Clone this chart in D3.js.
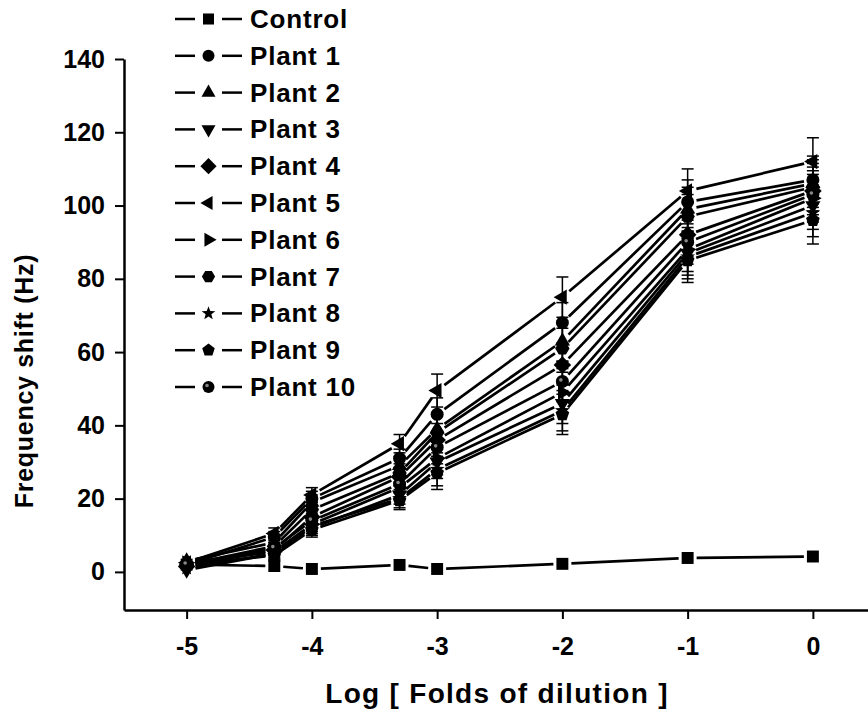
<!DOCTYPE html>
<html>
<head>
<meta charset="utf-8">
<script src="https://cdn.jsdelivr.net/npm/d3@7"></script>
<style>
  body { margin: 0; background: #fff; }
  text { font-family: Arial, "Liberation Sans", sans-serif; font-weight: bold; fill: #000; }
</style>
</head>
<body>
<script>
// dilution levels (log folds)
var dilution = [-5, -4.3, -4, -3.3, -3, -2, -1, 0];

var control = [2, 1.6, 0.8, 1.9, 0.8, 2.2, 3.8, 4.2];
var plant1  = [2, 9.5, 20, 31, 43, 68, 101, 107];
var plant2  = [3, 8, 19, 29, 39, 63, 99, 106];
var plant3  = [0.5, 5, 12, 21, 30, 46, 87, 100];
var plant4  = [1.5, 6, 15, 26, 36, 56.5, 92, 104];
var plant5  = [2.5, 10.5, 21, 35, 49.5, 75, 104, 112];
var plant6  = [2.5, 5.5, 13, 23, 31, 49, 88, 102];
var plant7  = [2, 7, 17, 27, 38, 61, 97, 105];
var plant8  = [1, 5, 12.5, 20, 28, 44, 86, 98];
var plant9  = [2, 4.5, 11.5, 19.5, 27, 43, 85, 96];
var plant10 = [2, 6.5, 14, 24, 34, 52, 90, 103];

// standard deviation per dilution level (plants)
var errBar = [1, 1.5, 2, 2.5, 4.5, 5.5, 6, 6.5];

var seriesNames = ["Control", "Plant 1", "Plant 2", "Plant 3", "Plant 4", "Plant 5",
                   "Plant 6", "Plant 7", "Plant 8", "Plant 9", "Plant 10"];
var seriesValues = [control, plant1, plant2, plant3, plant4, plant5,
                    plant6, plant7, plant8, plant9, plant10];
var seriesSymbols = ["square", "circle", "up", "down", "diamond", "left",
                     "right", "hexagon", "star", "pentagon", "ball"];

var xTicks = [-5, -4, -3, -2, -1, 0];
var yTicks = [0, 20, 40, 60, 80, 100, 120, 140];

var width = 868, height = 715;

var svg = d3.select("body").append("svg")
    .attr("width", width)
    .attr("height", height);

var x = d3.scaleLinear().domain([-5.5, 0.44]).range([124, 868]);
var y = d3.scaleLinear().domain([-10.4, 140]).range([610, 59]);

// symbol path, centred on 0,0
function symbolPath(type, r) {
    var p = [], i, a;
    function poly(n, rot, rad) {
        var pts = [];
        for (i = 0; i < n; i++) {
            a = rot + i * 2 * Math.PI / n;
            pts.push([rad * Math.cos(a), rad * Math.sin(a)]);
        }
        return "M" + pts.map(function(d) { return d[0].toFixed(2) + "," + d[1].toFixed(2); }).join("L") + "Z";
    }
    switch (type) {
        case "square": return poly(4, Math.PI / 4, r * 1.3);
        case "circle":
        case "ball": return d3.arc()({innerRadius: 0, outerRadius: r, startAngle: 0, endAngle: 2 * Math.PI});
        case "up": return poly(3, -Math.PI / 2, r * 1.35);
        case "down": return poly(3, Math.PI / 2, r * 1.35);
        case "left": return poly(3, Math.PI, r * 1.35);
        case "right": return poly(3, 0, r * 1.35);
        case "diamond": return poly(4, 0, r * 1.35);
        case "hexagon": return poly(6, 0, r * 1.1);
        case "pentagon": return poly(5, -Math.PI / 2, r * 1.1);
        case "star":
            for (i = 0; i < 10; i++) {
                a = -Math.PI / 2 + i * Math.PI / 5;
                var rr = i % 2 ? r * 0.5 : r * 1.2;
                p.push([rr * Math.cos(a), rr * Math.sin(a)]);
            }
            return "M" + p.map(function(d) { return d[0].toFixed(2) + "," + d[1].toFixed(2); }).join("L") + "Z";
    }
}

function drawSymbol(g, type, cx, cy, r) {
    g.append("path")
        .attr("d", symbolPath(type, r))
        .attr("transform", "translate(" + cx + "," + cy + ")")
        .attr("fill", "#000");
    if (type === "ball") {
        g.append("circle")
            .attr("cx", cx - 1.5).attr("cy", cy - 1.5).attr("r", 1.8)
            .attr("fill", "#888");
    }
}

// axes
var xAxis = d3.axisBottom(x).tickValues(xTicks).tickSize(9).tickSizeOuter(0)
    .tickPadding(18).tickFormat(function(d) { return String(d); });
var yAxis = d3.axisLeft(y).tickValues(yTicks).tickSize(9).tickSizeOuter(0)
    .tickPadding(10).tickFormat(function(d) { return String(d); });

var gx = svg.append("g").attr("transform", "translate(0,610)").call(xAxis);
var gy = svg.append("g").attr("transform", "translate(124,0)").call(yAxis);
[gx, gy].forEach(function(g) {
    g.select(".domain").attr("stroke", "#000").attr("stroke-width", 2.5);
    g.selectAll(".tick line").attr("stroke", "#000").attr("stroke-width", 2);
    g.selectAll(".tick text").attr("font-size", 25).attr("font-family", null).attr("fill", "#000");
});

svg.append("text")
    .attr("x", 497).attr("y", 703)
    .attr("text-anchor", "middle")
    .attr("font-size", 28)
    .style("letter-spacing", "1.3px")
    .text("Log [ Folds of dilution ]");

svg.append("text")
    .attr("transform", "translate(33,381) rotate(-90)")
    .attr("text-anchor", "middle")
    .attr("font-size", 25)
    .style("letter-spacing", "0.7px")
    .text("Frequency shift (Hz)");

// lines with a small gap around each symbol
var gap = 9;
var plot = svg.append("g");
seriesValues.forEach(function(vals, s) {
    for (var i = 0; i < vals.length - 1; i++) {
        var x1 = x(dilution[i]), y1 = y(vals[i]),
            x2 = x(dilution[i + 1]), y2 = y(vals[i + 1]);
        var len = Math.hypot(x2 - x1, y2 - y1);
        if (len <= 2 * gap) continue;
        var ux = (x2 - x1) / len, uy = (y2 - y1) / len;
        plot.append("line")
            .attr("x1", x1 + ux * gap).attr("y1", y1 + uy * gap)
            .attr("x2", x2 - ux * gap).attr("y2", y2 - uy * gap)
            .attr("stroke", "#000").attr("stroke-width", 2.7);
    }
});

// error bars for the plant series
seriesValues.forEach(function(vals, s) {
    if (s === 0) return;
    vals.forEach(function(v, i) {
        var cx = x(dilution[i]), e = errBar[i];
        if (e < 1.5) return;
        var eb = plot.append("g").attr("stroke", "#000").attr("stroke-width", 1.5);
        eb.append("line").attr("x1", cx).attr("x2", cx).attr("y1", y(v - e)).attr("y2", y(v + e));
        eb.append("line").attr("x1", cx - 6).attr("x2", cx + 6).attr("y1", y(v + e)).attr("y2", y(v + e));
        eb.append("line").attr("x1", cx - 6).attr("x2", cx + 6).attr("y1", y(v - e)).attr("y2", y(v - e));
    });
});

// symbols
seriesValues.forEach(function(vals, s) {
    vals.forEach(function(v, i) {
        drawSymbol(plot, seriesSymbols[s], x(dilution[i]), y(v), 6.5);
    });
});

// legend
var legend = svg.append("g");
seriesNames.forEach(function(name, i) {
    var ly = 19 + i * 36.8;
    legend.append("line").attr("x1", 175).attr("x2", 195).attr("y1", ly).attr("y2", ly)
        .attr("stroke", "#000").attr("stroke-width", 2.5);
    legend.append("line").attr("x1", 222).attr("x2", 242).attr("y1", ly).attr("y2", ly)
        .attr("stroke", "#000").attr("stroke-width", 2.5);
    drawSymbol(legend, seriesSymbols[i], 208.5, ly, 6);
    legend.append("text")
        .attr("x", 250).attr("y", ly + 9)
        .attr("font-size", 26)
        .style("letter-spacing", "0.8px")
        .text(name);
});
</script>
</body>
</html>
